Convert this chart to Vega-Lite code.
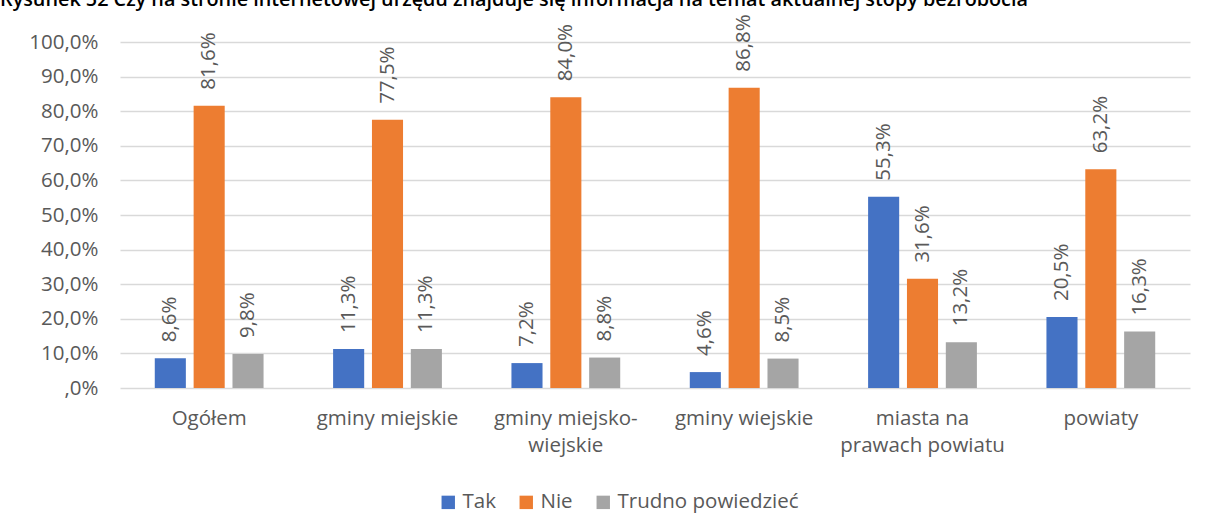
{
  "$schema": "https://vega.github.io/schema/vega-lite/v6.json",
  "width": 1070,
  "height": 346,
  "autosize": {"type": "none"},
  "padding": {"left": 120, "top": 42, "right": 18, "bottom": 143},
  "background": "white",
  "config": {
    "locale": {"number": {"decimal": ",", "thousands": " ", "grouping": [3], "currency": ["", " zł"]}},
    "font": "Open Sans",
    "view": {"stroke": null},
    "axis": {"labelFont": "Open Sans", "labelColor": "#595959", "labelFontSize": 20.5}
  },
  "title": {
    "text": "Rysunek 52 Czy na stronie internetowej urzędu znajduje się informacja na temat aktualnej stopy bezrobocia",
    "anchor": "start",
    "frame": "group",
    "dx": -120,
    "dy": 18,
    "offset": 6,
    "baseline": "alphabetic",
    "fontSize": 19.8,
    "fontWeight": 600,
    "color": "#000000",
    "font": "Open Sans"
  },
  "data": {
    "values": [
      {"kategoria": "Ogółem", "odpowiedz": "Tak", "wartosc": 0.086},
      {"kategoria": "Ogółem", "odpowiedz": "Nie", "wartosc": 0.816},
      {"kategoria": "Ogółem", "odpowiedz": "Trudno powiedzieć", "wartosc": 0.098},
      {"kategoria": "gminy miejskie", "odpowiedz": "Tak", "wartosc": 0.113},
      {"kategoria": "gminy miejskie", "odpowiedz": "Nie", "wartosc": 0.775},
      {"kategoria": "gminy miejskie", "odpowiedz": "Trudno powiedzieć", "wartosc": 0.113},
      {"kategoria": "gminy miejsko-wiejskie", "odpowiedz": "Tak", "wartosc": 0.072},
      {"kategoria": "gminy miejsko-wiejskie", "odpowiedz": "Nie", "wartosc": 0.84},
      {"kategoria": "gminy miejsko-wiejskie", "odpowiedz": "Trudno powiedzieć", "wartosc": 0.088},
      {"kategoria": "gminy wiejskie", "odpowiedz": "Tak", "wartosc": 0.046},
      {"kategoria": "gminy wiejskie", "odpowiedz": "Nie", "wartosc": 0.868},
      {"kategoria": "gminy wiejskie", "odpowiedz": "Trudno powiedzieć", "wartosc": 0.085},
      {"kategoria": "miasta na prawach powiatu", "odpowiedz": "Tak", "wartosc": 0.553},
      {"kategoria": "miasta na prawach powiatu", "odpowiedz": "Nie", "wartosc": 0.316},
      {"kategoria": "miasta na prawach powiatu", "odpowiedz": "Trudno powiedzieć", "wartosc": 0.132},
      {"kategoria": "powiaty", "odpowiedz": "Tak", "wartosc": 0.205},
      {"kategoria": "powiaty", "odpowiedz": "Nie", "wartosc": 0.632},
      {"kategoria": "powiaty", "odpowiedz": "Trudno powiedzieć", "wartosc": 0.163}
    ]
  },
  "encoding": {
    "x": {
      "field": "kategoria",
      "type": "nominal",
      "sort": null,
      "title": null,
      "scale": {"paddingInner": 0.39, "paddingOuter": 0.195},
      "axis": {
        "labelAngle": 0,
        "domain": false,
        "ticks": false,
        "labelPadding": 20,
        "labelLineHeight": 27,
        "labelLimit": 0,
        "labelExpr": "datum.value == 'gminy miejsko-wiejskie' ? ['gminy miejsko-', 'wiejskie'] : datum.value == 'miasta na prawach powiatu' ? ['miasta na', 'prawach powiatu'] : datum.value"
      }
    },
    "xOffset": {
      "field": "odpowiedz",
      "type": "nominal",
      "sort": ["Tak", "Nie", "Trudno powiedzieć"],
      "scale": {"paddingInner": 0.2, "paddingOuter": 0}
    },
    "y": {
      "field": "wartosc",
      "type": "quantitative",
      "title": null,
      "scale": {"domain": [0, 1], "nice": false},
      "axis": {
        "values": [0, 0.1, 0.2, 0.3, 0.4, 0.5, 0.6, 0.7, 0.8, 0.9, 1.0],
        "format": ".1%",
        "labelExpr": "datum.value == 0 ? ',0%' : datum.label",
        "domain": false,
        "ticks": false,
        "labelPadding": 22,
        "grid": true,
        "gridColor": "#D9D9D9",
        "gridWidth": 1.3
      }
    }
  },
  "layer": [
    {
      "mark": {"type": "bar"},
      "encoding": {
        "color": {
          "field": "odpowiedz",
          "type": "nominal",
          "sort": ["Tak", "Nie", "Trudno powiedzieć"],
          "scale": {"domain": ["Tak", "Nie", "Trudno powiedzieć"], "range": ["#4472C4", "#ED7D31", "#A5A5A5"]},
          "legend": {
            "title": null,
            "orient": "none",
            "direction": "horizontal",
            "legendX": 318,
            "legendY": 450,
            "symbolType": "square",
            "symbolSize": 180,
            "symbolStrokeWidth": 0,
            "labelFont": "Open Sans",
            "labelFontSize": 20.5,
            "labelLimit": 0,
            "labelColor": "#595959",
            "labelOffset": 4,
            "columnPadding": 20
          }
        }
      }
    },
    {
      "mark": {"type": "text", "angle": 270, "align": "left", "baseline": "middle", "dx": 16, "fontSize": 20.5, "color": "#595959", "font": "Open Sans"},
      "encoding": {
        "text": {"field": "wartosc", "type": "quantitative", "format": ".1%"}
      }
    }
  ]
}
